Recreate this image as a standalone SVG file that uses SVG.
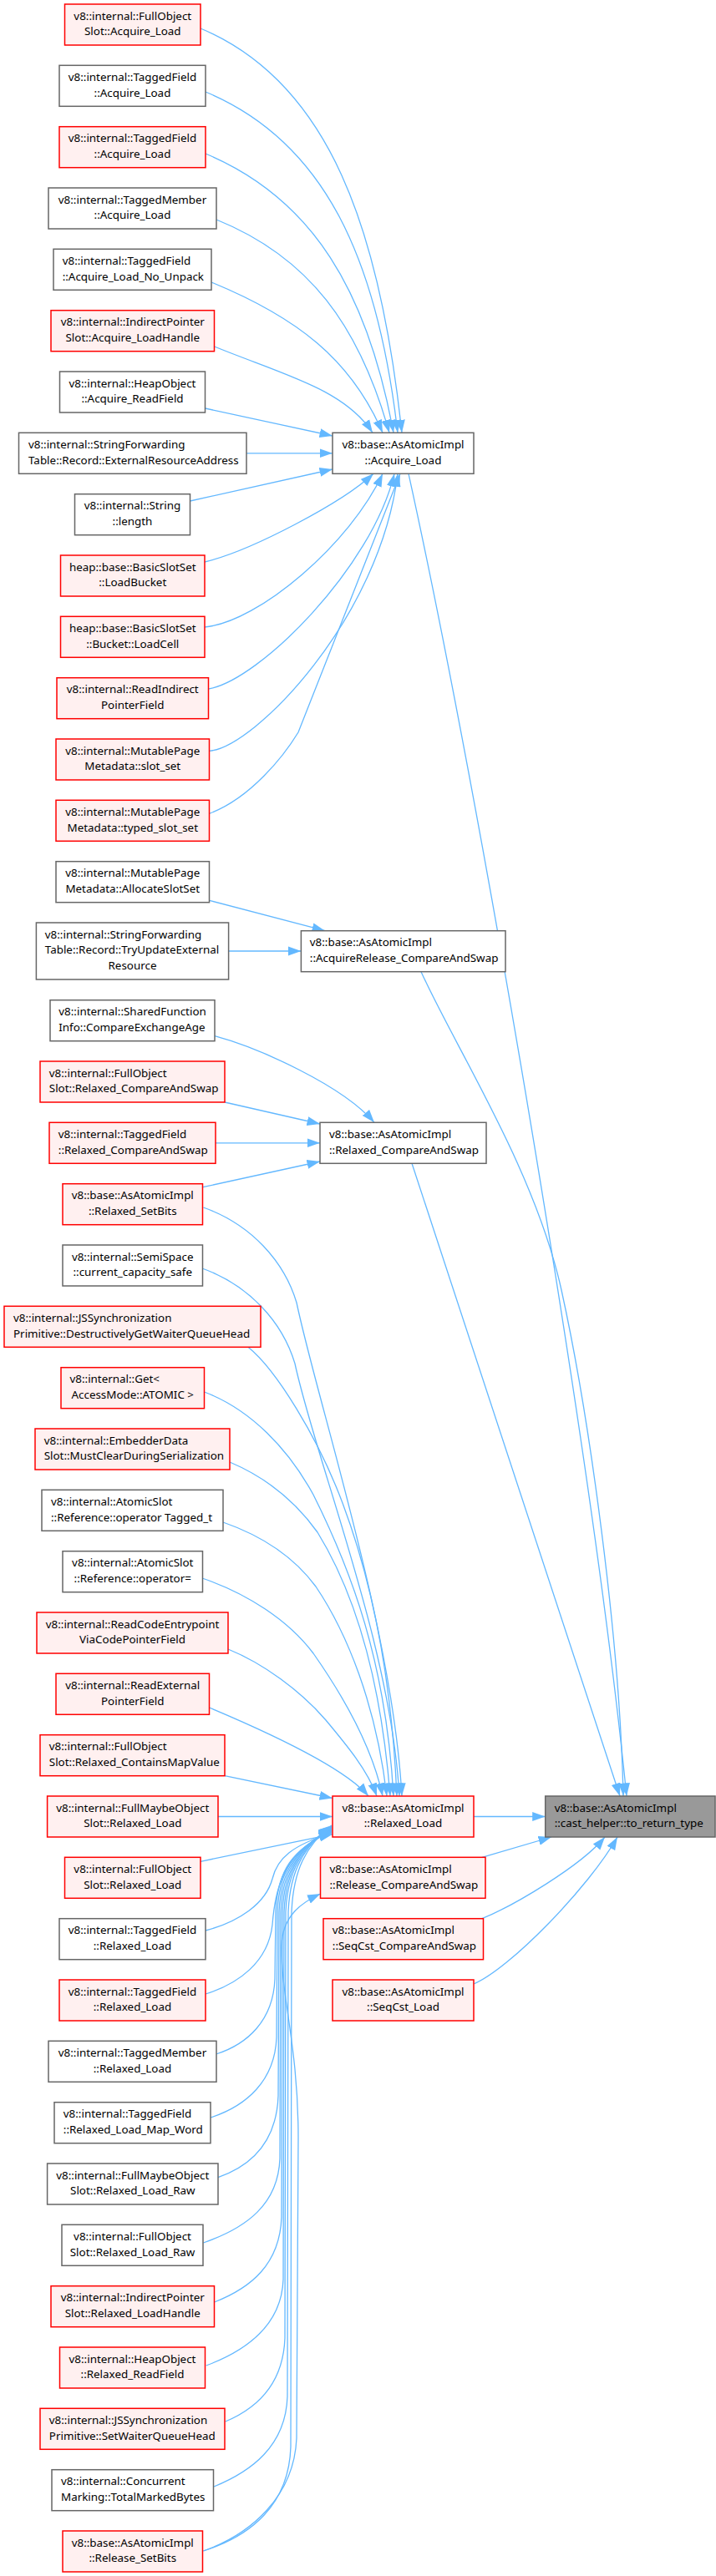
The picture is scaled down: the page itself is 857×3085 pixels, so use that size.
<svg xmlns="http://www.w3.org/2000/svg" width="857" height="3085" viewBox="0 0 857 3085">
<style>
text{font-family:"Noto Sans","Liberation Sans",Arial,sans-serif;font-size:13.4px;fill:#000}
.m{text-anchor:middle}
rect{stroke-width:1.5}
.w{fill:#fff;stroke:#666}
.r{fill:#fff0f0;stroke:#f00}
.t{fill:#999;stroke:#666}
#edges path{fill:none;stroke:#63b8ff;stroke-width:1.3;marker-end:url(#ah)}
</style>
<defs>
<marker id="ah" markerUnits="userSpaceOnUse" markerWidth="16" markerHeight="12" refX="15.5" refY="5.75" orient="auto"><path d="M0,0.25 L15.5,5.75 L0,11.25 z" fill="#63b8ff"/></marker>
</defs>
<rect x="0" y="0" width="857" height="3085" fill="#fff" stroke="none"/>
<g id="edges">
<path d="M240,34 C395,99 455,276 481,518.3"/>
<path d="M246,110 C390,170 452,312 476,518.3"/>
<path d="M246,184 C375,238 440,350 471,518.3"/>
<path d="M259,263 C370,308 430,390 466,518.3"/>
<path d="M253,338 C355,380 420,430 458,518.3"/>
<path d="M256.5,415 C340,449 412,466 446,518.3"/>
<path d="M245.5,489 L398,522"/>
<path d="M295,542.8 L398,542.8"/>
<path d="M227.5,600 L398,562"/>
<path d="M245,673 C300,660 410,602 447,567.3"/>
<path d="M245,751 C310,745 420,650 458,567.3"/>
<path d="M249.5,825 C310,815 445,680 472,567.3"/>
<path d="M250.5,899.3 C305,895 455,740 476,567.3"/>
<path d="M250.5,974.3 C300,956 340,905 357,877 L479,567.3"/>
<path d="M489,567.3 C577,967 710,1751 750,2151"/>
<path d="M250.5,1078.3 L389,1114.7"/>
<path d="M273.6,1139 L360.4,1139"/>
<path d="M504,1163.7 C545,1255 640,1400 672,1545 C705,1695 742,1960 746,2151"/>
<path d="M257,1240.7 C310,1255 410,1300 448,1344.3"/>
<path d="M269,1320 L383,1346"/>
<path d="M258,1368.8 L383,1368.8"/>
<path d="M243,1421.7 L383,1391"/>
<path d="M493,1393.3 L742,2151"/>
<path d="M243.4,1446 C300,1466 340,1510 355,1560 C380,1680 470,1950 481,2151"/>
<path d="M242,1519 C298,1539 338,1583 353,1633 C378,1750 468,1970 478,2151"/>
<path d="M297,1613.3 C330,1640 380,1720 410,1800 C440,1880 468,1990 475,2151"/>
<path d="M244.5,1667 C300,1688 345,1735 375,1790 C420,1880 462,1990 471,2151"/>
<path d="M275,1751 C320,1770 355,1800 380,1835 C420,1900 455,2000 467,2151"/>
<path d="M267,1823 C310,1838 350,1862 378,1900 C415,1955 450,2040 463,2151"/>
<path d="M242,1890 C295,1908 345,1940 375,1980 C410,2030 445,2090 458,2151"/>
<path d="M273,1975 C315,1992 360,2025 390,2060 C415,2090 440,2120 451,2151"/>
<path d="M250.5,2045 C336,2081 415,2120 441,2151"/>
<path d="M269,2126.7 L398,2153.5"/>
<path d="M261,2175.5 L398,2175.5"/>
<path d="M240,2229.3 L398,2196.7"/>
<path d="M246,2312 C285,2302 318,2280 326,2250 C332,2225 350,2210 397,2195"/>
<path d="M246,2388 C285,2376 321,2350 326,2305 C330,2250 346,2214 397,2194"/>
<path d="M258.7,2460 C296,2448 327,2420 329,2370 L330,2290 C332,2240 350,2214 397,2193"/>
<path d="M252,2536 C295,2522 329,2492 331,2440 L332,2290 C334,2240 352,2213 397,2192"/>
<path d="M261,2607.6 C300,2594 331,2566 333,2510 L334,2290 C336,2240 354,2213 397,2191"/>
<path d="M243.4,2686 C295,2668 333,2640 335,2585 L336,2290 C338,2240 356,2212 397,2190"/>
<path d="M256.6,2757 C300,2740 335,2712 337,2655 L338,2290 C340,2240 358,2212 397,2189"/>
<path d="M246.7,2833 C295,2815 337,2785 339,2730 L340,2290 C342,2240 360,2211 397,2188"/>
<path d="M269.8,2900 C308,2884 339,2855 341,2800 L342,2290 C344,2240 362,2211 397,2188"/>
<path d="M256,2978 C300,2960 342,2930 344,2870 L345,2290 C347,2240 364,2210 397,2187"/>
<path d="M243.4,3055 C300,3037 346,3000 348,2930 L349,2290 C351,2240 366,2210 397,2186"/>
<path d="M243.4,3055 C300,3035 352,2990 355,2920 L357,2560 C357,2450 336,2390 337,2330 C338,2295 360,2279 383.5,2268"/>
<path d="M567,2175.5 L652.7,2175.5"/>
<path d="M577,2224.3 L660,2200"/>
<path d="M577,2297.7 C615,2282 695,2235 724,2200"/>
<path d="M567,2376 C610,2358 705,2260 739,2200"/>
</g>
<g id="n1"><rect class="r" x="77.5" y="5" width="162.5" height="49"/><text class="m" x="158.75" y="23.6">v8::internal::FullObject</text><text class="m" x="158.75" y="42.3">Slot::Acquire_Load</text></g>
<g id="n2"><rect class="w" x="71" y="78.3" width="175" height="49"/><text class="m" x="158.5" y="96.9">v8::internal::TaggedField</text><text class="m" x="158.5" y="115.6">::Acquire_Load</text></g>
<g id="n3"><rect class="r" x="71" y="151.7" width="175" height="49"/><text class="m" x="158.5" y="170.3">v8::internal::TaggedField</text><text class="m" x="158.5" y="189">::Acquire_Load</text></g>
<g id="n4"><rect class="w" x="58" y="225" width="201" height="49"/><text class="m" x="158.5" y="243.6">v8::internal::TaggedMember</text><text class="m" x="158.5" y="262.3">::Acquire_Load</text></g>
<g id="n5"><rect class="w" x="64" y="298.3" width="189" height="49"/><text x="74.7" y="316.9">v8::internal::TaggedField</text><text x="74.7" y="335.6">::Acquire_Load_No_Unpack</text></g>
<g id="n6"><rect class="r" x="61" y="371.7" width="195.5" height="49"/><text class="m" x="158.75" y="390.3">v8::internal::IndirectPointer</text><text class="m" x="158.75" y="409">Slot::Acquire_LoadHandle</text></g>
<g id="n7"><rect class="w" x="71.5" y="445" width="174" height="49"/><text class="m" x="158.5" y="463.6">v8::internal::HeapObject</text><text class="m" x="158.5" y="482.3">::Acquire_ReadField</text></g>
<g id="n8"><rect class="w" x="22.5" y="518.3" width="272.5" height="49"/><text x="34" y="536.9">v8::internal::StringForwarding</text><text x="34" y="555.6">Table::Record::ExternalResourceAddress</text></g>
<g id="n9"><rect class="w" x="89.5" y="591.7" width="138" height="49"/><text class="m" x="158.5" y="610.3">v8::internal::String</text><text class="m" x="158.5" y="629">::length</text></g>
<g id="n10"><rect class="r" x="72.5" y="665" width="172.5" height="49"/><text class="m" x="158.75" y="683.6">heap::base::BasicSlotSet</text><text class="m" x="158.75" y="702.3">::LoadBucket</text></g>
<g id="n11"><rect class="r" x="72.5" y="738.3" width="172.5" height="49"/><text class="m" x="158.75" y="756.9">heap::base::BasicSlotSet</text><text class="m" x="158.75" y="775.6">::Bucket::LoadCell</text></g>
<g id="n12"><rect class="r" x="68" y="811.7" width="181.5" height="49"/><text class="m" x="158.75" y="830.3">v8::internal::ReadIndirect</text><text class="m" x="158.75" y="849">PointerField</text></g>
<g id="n13"><rect class="r" x="67" y="885" width="183.5" height="49"/><text class="m" x="158.75" y="903.6">v8::internal::MutablePage</text><text class="m" x="158.75" y="922.3">Metadata::slot_set</text></g>
<g id="n14"><rect class="r" x="67" y="958.3" width="183.5" height="49"/><text class="m" x="158.75" y="976.9">v8::internal::MutablePage</text><text class="m" x="158.75" y="995.6">Metadata::typed_slot_set</text></g>
<g id="n15"><rect class="w" x="67" y="1031.7" width="183.5" height="49"/><text class="m" x="158.75" y="1050.3">v8::internal::MutablePage</text><text class="m" x="158.75" y="1069">Metadata::AllocateSlotSet</text></g>
<g id="n16"><rect class="w" x="43.4" y="1105" width="230.2" height="68"/><text x="53.8" y="1123.6">v8::internal::StringForwarding</text><text x="53.8" y="1142.3">Table::Record::TryUpdateExternal</text><text class="m" x="158.5" y="1161">Resource</text></g>
<g id="n17"><rect class="w" x="60" y="1197.7" width="197" height="49"/><text x="70.3" y="1216.3">v8::internal::SharedFunction</text><text x="70.3" y="1235">Info::CompareExchangeAge</text></g>
<g id="n18"><rect class="r" x="48" y="1271" width="221" height="49"/><text x="58.8" y="1289.6">v8::internal::FullObject</text><text x="58.8" y="1308.3">Slot::Relaxed_CompareAndSwap</text></g>
<g id="n19"><rect class="r" x="59" y="1344.3" width="199" height="49"/><text x="69.8" y="1362.9">v8::internal::TaggedField</text><text x="69.8" y="1381.6">::Relaxed_CompareAndSwap</text></g>
<g id="n20"><rect class="r" x="75" y="1417.7" width="167.5" height="49"/><text class="m" x="158.75" y="1436.3">v8::base::AsAtomicImpl</text><text class="m" x="158.75" y="1455">::Relaxed_SetBits</text></g>
<g id="n21"><rect class="w" x="75" y="1491" width="167.5" height="49"/><text class="m" x="158.75" y="1509.6">v8::internal::SemiSpace</text><text class="m" x="158.75" y="1528.3">::current_capacity_safe</text></g>
<g id="n22"><rect class="r" x="5" y="1564.3" width="307" height="49"/><text x="16" y="1582.9">v8::internal::JSSynchronization</text><text x="16" y="1601.6">Primitive::DestructivelyGetWaiterQueueHead</text></g>
<g id="n23"><rect class="r" x="73" y="1637.7" width="171.5" height="49"/><text x="83.5" y="1656.3">v8::internal::Get&lt;</text><text class="m" x="158.75" y="1675">AccessMode::ATOMIC &gt;</text></g>
<g id="n24"><rect class="r" x="42" y="1711" width="233" height="49"/><text x="52.7" y="1729.6">v8::internal::EmbedderData</text><text x="52.7" y="1748.3">Slot::MustClearDuringSerialization</text></g>
<g id="n25"><rect class="w" x="50" y="1784.3" width="217" height="49"/><text x="61" y="1802.9">v8::internal::AtomicSlot</text><text x="61" y="1821.6">::Reference::operator Tagged_t</text></g>
<g id="n26"><rect class="w" x="75" y="1857.7" width="167.5" height="49"/><text class="m" x="158.75" y="1876.3">v8::internal::AtomicSlot</text><text class="m" x="158.75" y="1895">::Reference::operator=</text></g>
<g id="n27"><rect class="r" x="44" y="1931" width="229" height="49"/><text class="m" x="158.5" y="1949.6">v8::internal::ReadCodeEntrypoint</text><text class="m" x="158.5" y="1968.3">ViaCodePointerField</text></g>
<g id="n28"><rect class="r" x="67" y="2004.3" width="183.5" height="49"/><text class="m" x="158.75" y="2022.9">v8::internal::ReadExternal</text><text class="m" x="158.75" y="2041.6">PointerField</text></g>
<g id="n29"><rect class="r" x="48" y="2077.7" width="221" height="49"/><text x="58.8" y="2096.3">v8::internal::FullObject</text><text x="58.8" y="2115">Slot::Relaxed_ContainsMapValue</text></g>
<g id="n30"><rect class="r" x="56.6" y="2151" width="204.4" height="49"/><text class="m" x="158.8" y="2169.6">v8::internal::FullMaybeObject</text><text class="m" x="158.8" y="2188.3">Slot::Relaxed_Load</text></g>
<g id="n31"><rect class="r" x="77.5" y="2224.3" width="162.5" height="49"/><text class="m" x="158.75" y="2242.9">v8::internal::FullObject</text><text class="m" x="158.75" y="2261.6">Slot::Relaxed_Load</text></g>
<g id="n32"><rect class="w" x="71" y="2297.7" width="175" height="49"/><text class="m" x="158.5" y="2316.3">v8::internal::TaggedField</text><text class="m" x="158.5" y="2335">::Relaxed_Load</text></g>
<g id="n33"><rect class="r" x="71" y="2371" width="175" height="49"/><text class="m" x="158.5" y="2389.6">v8::internal::TaggedField</text><text class="m" x="158.5" y="2408.3">::Relaxed_Load</text></g>
<g id="n34"><rect class="w" x="58" y="2444.3" width="201" height="49"/><text class="m" x="158.5" y="2462.9">v8::internal::TaggedMember</text><text class="m" x="158.5" y="2481.6">::Relaxed_Load</text></g>
<g id="n35"><rect class="w" x="65" y="2517.7" width="187" height="49"/><text x="75.8" y="2536.3">v8::internal::TaggedField</text><text x="75.8" y="2555">::Relaxed_Load_Map_Word</text></g>
<g id="n36"><rect class="w" x="56.6" y="2591" width="204.4" height="49"/><text class="m" x="158.8" y="2609.6">v8::internal::FullMaybeObject</text><text class="m" x="158.8" y="2628.3">Slot::Relaxed_Load_Raw</text></g>
<g id="n37"><rect class="w" x="74" y="2664.3" width="169" height="49"/><text class="m" x="158.5" y="2682.9">v8::internal::FullObject</text><text class="m" x="158.5" y="2701.6">Slot::Relaxed_Load_Raw</text></g>
<g id="n38"><rect class="r" x="61" y="2737.7" width="195.5" height="49"/><text class="m" x="158.75" y="2756.3">v8::internal::IndirectPointer</text><text class="m" x="158.75" y="2775">Slot::Relaxed_LoadHandle</text></g>
<g id="n39"><rect class="r" x="71.5" y="2811" width="174" height="49"/><text class="m" x="158.5" y="2829.6">v8::internal::HeapObject</text><text class="m" x="158.5" y="2848.3">::Relaxed_ReadField</text></g>
<g id="n40"><rect class="r" x="48" y="2884.3" width="221" height="49"/><text x="58.8" y="2902.9">v8::internal::JSSynchronization</text><text x="58.8" y="2921.6">Primitive::SetWaiterQueueHead</text></g>
<g id="n41"><rect class="w" x="62" y="2957.7" width="193.5" height="49"/><text x="73" y="2976.3">v8::internal::Concurrent</text><text x="73" y="2995">Marking::TotalMarkedBytes</text></g>
<g id="n42"><rect class="r" x="75" y="3031" width="167.5" height="49"/><text class="m" x="158.75" y="3049.6">v8::base::AsAtomicImpl</text><text class="m" x="158.75" y="3068.3">::Release_SetBits</text></g>
<g id="acquire_load"><rect class="w" x="398" y="518.3" width="169" height="49"/><text class="m" x="482.5" y="536.9">v8::base::AsAtomicImpl</text><text class="m" x="482.5" y="555.6">::Acquire_Load</text></g>
<g id="acqrel_cas"><rect class="w" x="360.4" y="1114.7" width="244.6" height="49"/><text x="370.8" y="1133.3">v8::base::AsAtomicImpl</text><text x="370.8" y="1152">::AcquireRelease_CompareAndSwap</text></g>
<g id="relaxed_cas"><rect class="w" x="383" y="1344.3" width="199" height="49"/><text x="394" y="1362.9">v8::base::AsAtomicImpl</text><text x="394" y="1381.6">::Relaxed_CompareAndSwap</text></g>
<g id="relaxed_load"><rect class="r" x="398" y="2151" width="169" height="49"/><text class="m" x="482.5" y="2169.6">v8::base::AsAtomicImpl</text><text class="m" x="482.5" y="2188.3">::Relaxed_Load</text></g>
<g id="release_cas"><rect class="r" x="383.5" y="2224.3" width="197.5" height="49"/><text x="394.5" y="2242.9">v8::base::AsAtomicImpl</text><text x="394.5" y="2261.6">::Release_CompareAndSwap</text></g>
<g id="seqcst_cas"><rect class="r" x="387" y="2297.7" width="191.5" height="49"/><text x="397.8" y="2316.3">v8::base::AsAtomicImpl</text><text x="397.8" y="2335">::SeqCst_CompareAndSwap</text></g>
<g id="seqcst_load"><rect class="r" x="398" y="2371" width="169" height="49"/><text class="m" x="482.5" y="2389.6">v8::base::AsAtomicImpl</text><text class="m" x="482.5" y="2408.3">::SeqCst_Load</text></g>
<g id="target"><rect class="t" x="652.7" y="2151" width="203.3" height="49"/><text x="663.7" y="2169.6">v8::base::AsAtomicImpl</text><text x="663.7" y="2188.3">::cast_helper::to_return_type</text></g>
</svg>
